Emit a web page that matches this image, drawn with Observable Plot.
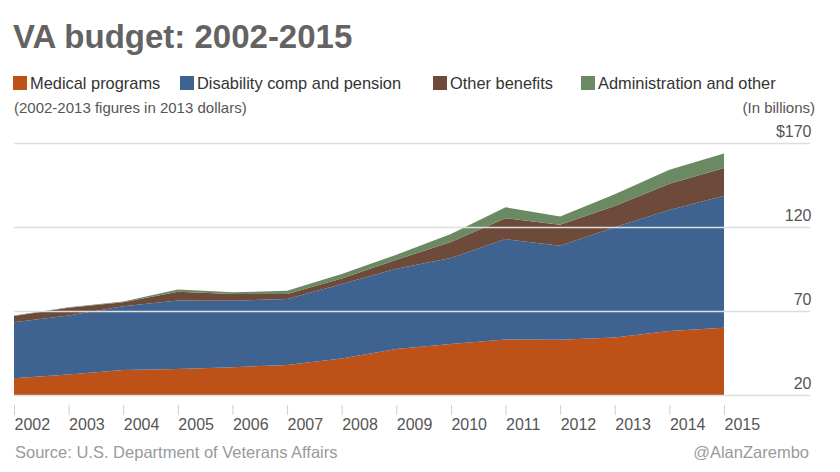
<!DOCTYPE html>
<html>
<head>
<meta charset="utf-8">
<script src="https://cdn.jsdelivr.net/npm/d3@7"></script>
<script src="https://cdn.jsdelivr.net/npm/@observablehq/plot@0.6"></script>
<style>
  html, body { margin: 0; padding: 0; background: #fff; }
  #wrap { position: relative; width: 840px; height: 472px; font-family: "Liberation Sans", Arial, Helvetica, sans-serif; overflow: hidden; }
  .abs { position: absolute; line-height: 1; white-space: nowrap; }
  #title { left: 13px; top: 20px; font-size: 33px; font-weight: bold; color: #636363; }
  .leg { top: 75px; font-size: 16.4px; color: #333; display: flex; align-items: center; }
  .sw { display: inline-block; width: 14px; height: 14px; margin-right: 3px; }
  #sub { left: 14px; top: 100px; font-size: 15px; color: #555; }
  #unit { right: 25px; top: 100px; font-size: 15px; color: #555; }
  #chart { position: absolute; left: 0; top: 120px; }
  #source { left: 15px; top: 444px; font-size: 16.5px; color: #9a9a9a; }
  #credit { right: 31px; top: 444px; font-size: 16.5px; color: #9a9a9a; }
</style>
</head>
<body>
<div id="wrap">
  <div id="title" class="abs">VA budget: 2002-2015</div>
  <div id="legend"></div>
  <div id="sub" class="abs">(2002-2013 figures in 2013 dollars)</div>
  <div id="unit" class="abs">(In billions)</div>
  <div id="chart"></div>
  <div id="source" class="abs">Source: U.S. Department of Veterans Affairs</div>
  <div id="credit" class="abs">@AlanZarembo</div>
</div>
<script>
// ---- data (billions of dollars) ----
const years = [2002, 2003, 2004, 2005, 2006, 2007, 2008, 2009, 2010, 2011, 2012, 2013, 2014, 2015];
const seriesNames = ["Medical programs", "Disability comp and pension", "Other benefits", "Administration and other"];
const medical       = [29.9, 32.2, 34.9, 35.5, 36.5, 37.9, 41.8, 47.4, 50.4, 53.1, 52.9, 54.3, 58.1, 60.1];
const disability    = [33.4, 35.1, 37.9, 40.8, 39.6, 39.2, 44.3, 47.8, 51.1, 59.7, 55.9, 65.5, 72.0, 78.5];
const otherBenefits = [3.7, 4.6, 2.4, 5.2, 4.0, 3.0, 3.3, 5.3, 9.5, 12.4, 12.6, 12.7, 15.6, 16.5];
const admin         = [0.3, 0.4, 0.4, 1.3, 1.0, 1.9, 2.6, 3.0, 4.9, 6.5, 4.9, 7.0, 8.4, 8.7];
const colors = ["#bd5117", "#3f6391", "#6e4a3a", "#6b8a63"];
const yTicks = [20, 70, 120, 170];
const yTickLabels = ["20", "70", "120", "$170"];
const legendX = [13, 180, 433, 581];

const seriesValues = [medical, disability, otherBenefits, admin];
const table = [];
seriesNames.forEach((name, i) => {
  years.forEach((yr, j) => table.push({year: yr, series: name, value: seriesValues[i][j]}));
});

// legend
const legend = document.getElementById("legend");
seriesNames.forEach((name, i) => {
  const item = document.createElement("div");
  item.className = "abs leg";
  item.style.left = legendX[i] + "px";
  item.innerHTML = `<span class="sw" style="background:${colors[i]}"></span><span>${name}</span>`;
  legend.appendChild(item);
});

const chart = Plot.plot({
  width: 840,
  height: 322,
  marginTop: 23,
  marginBottom: 47,
  marginLeft: 14,
  marginRight: 116,
  style: {fontFamily: '"Liberation Sans", Arial, Helvetica, sans-serif', background: "transparent"},
  x: {type: "linear", domain: [years[0], years[years.length - 1]]},
  y: {domain: [yTicks[0], yTicks[yTicks.length - 1]]},
  color: {domain: seriesNames, range: colors},
  marks: [
    Plot.areaY(table, {x: "year", y: "value", fill: "series", order: seriesNames, clip: true}),
    Plot.ruleY(yTicks, {stroke: "#dedede", strokeWidth: 1.5, insetRight: -86}),
    Plot.axisY({
      anchor: "right", ticks: yTicks, tickSize: 0, tickPadding: 0,
      textAnchor: "end", dx: 87, dy: -12, fontSize: 16, fill: "#555", label: null,
      tickFormat: d => yTickLabels[yTicks.indexOf(d)]
    }),
    Plot.axisX({
      ticks: years, tickFormat: d => String(d), tickSize: 10, dy: 10, tickPadding: 3,
      textAnchor: "start", stroke: "#cfcfcf", fill: "#555", fontSize: 16, label: null
    })
  ]
});
document.getElementById("chart").appendChild(chart);
</script>
</body>
</html>
